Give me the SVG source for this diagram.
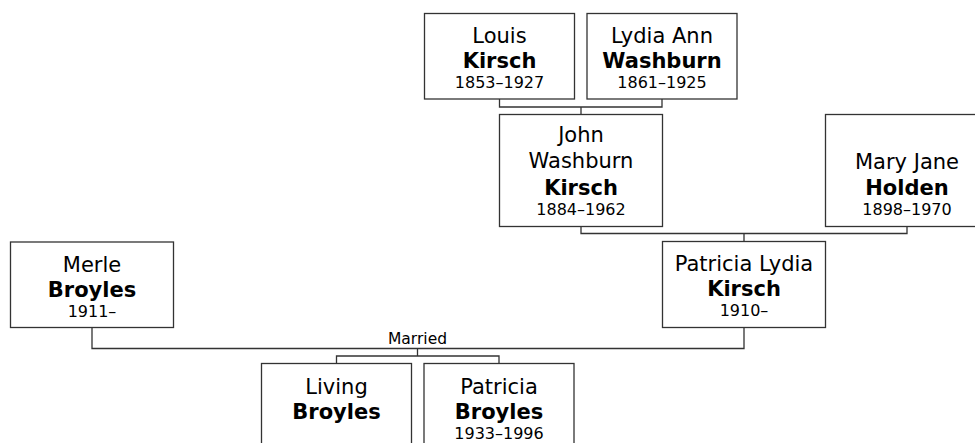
<svg xmlns="http://www.w3.org/2000/svg" width="975" height="443" viewBox="0 0 975 443">
<style>
.box{fill:#fff;stroke:#333;stroke-width:1.3}
.con{fill:none;stroke:#333;stroke-width:1.3}
text{font-family:"DejaVu Sans",Verdana,sans-serif;fill:#000;text-anchor:middle}
.n{font-size:21px}
.s{font-size:21px;font-weight:bold}
.d{font-size:16px}
.m{font-size:15.5px}
</style>
<rect width="975" height="443" fill="#fff"/>
<g id="connectors">
<path class="con" d="M499.5,99 V107 H662 V99 M581,107 V114.5"/>
<path class="con" d="M581,226.5 V233.5 H907 V226.5 M744,233.5 V241.5"/>
<path class="con" d="M92,327.5 V348.5 H744 V327.5 M417.5,348.5 V356 M336.5,363.5 V356 H499 V363.5"/>
<text class="m" x="417.5" y="344">Married</text>
</g>
<g id="louis">
<rect class="box" x="424.5" y="13.5" width="150" height="85.5"/>
<text class="n" x="499.5" y="42.5">Louis</text>
<text class="s" x="499.5" y="67.5">Kirsch</text>
<text class="d" x="499.5" y="87.5">1853–1927</text>
</g>
<g id="lydia">
<rect class="box" x="587" y="13.5" width="150" height="85.5"/>
<text class="n" x="662" y="42.5">Lydia Ann</text>
<text class="s" x="662" y="67.5">Washburn</text>
<text class="d" x="662" y="87.5">1861–1925</text>
</g>
<g id="john">
<rect class="box" x="499.5" y="114.5" width="163" height="112"/>
<text class="n" x="581" y="141.5">John</text>
<text class="n" x="581" y="168">Washburn</text>
<text class="s" x="581" y="194.5">Kirsch</text>
<text class="d" x="581" y="215">1884–1962</text>
</g>
<g id="maryjane">
<rect class="box" x="825.5" y="114.5" width="163" height="112"/>
<text class="n" x="907" y="169">Mary Jane</text>
<text class="s" x="907" y="194.5">Holden</text>
<text class="d" x="907" y="215">1898–1970</text>
</g>
<g id="merle">
<rect class="box" x="10.5" y="242" width="163" height="85.5"/>
<text class="n" x="92" y="271.5">Merle</text>
<text class="s" x="92" y="296.5">Broyles</text>
<text class="d" x="92" y="316.5">1911–</text>
</g>
<g id="patricialydia">
<rect class="box" x="662.5" y="241.5" width="163" height="86"/>
<text class="n" x="744" y="270.5">Patricia Lydia</text>
<text class="s" x="744" y="296">Kirsch</text>
<text class="d" x="744" y="316">1910–</text>
</g>
<g id="living">
<rect class="box" x="261.5" y="363.5" width="150" height="86"/>
<text class="n" x="336.5" y="393.5">Living</text>
<text class="s" x="336.5" y="419">Broyles</text>
</g>
<g id="patriciabroyles">
<rect class="box" x="424" y="363.5" width="150" height="86"/>
<text class="n" x="499" y="393.5">Patricia</text>
<text class="s" x="499" y="419">Broyles</text>
<text class="d" x="499" y="439">1933–1996</text>
</g>
</svg>
